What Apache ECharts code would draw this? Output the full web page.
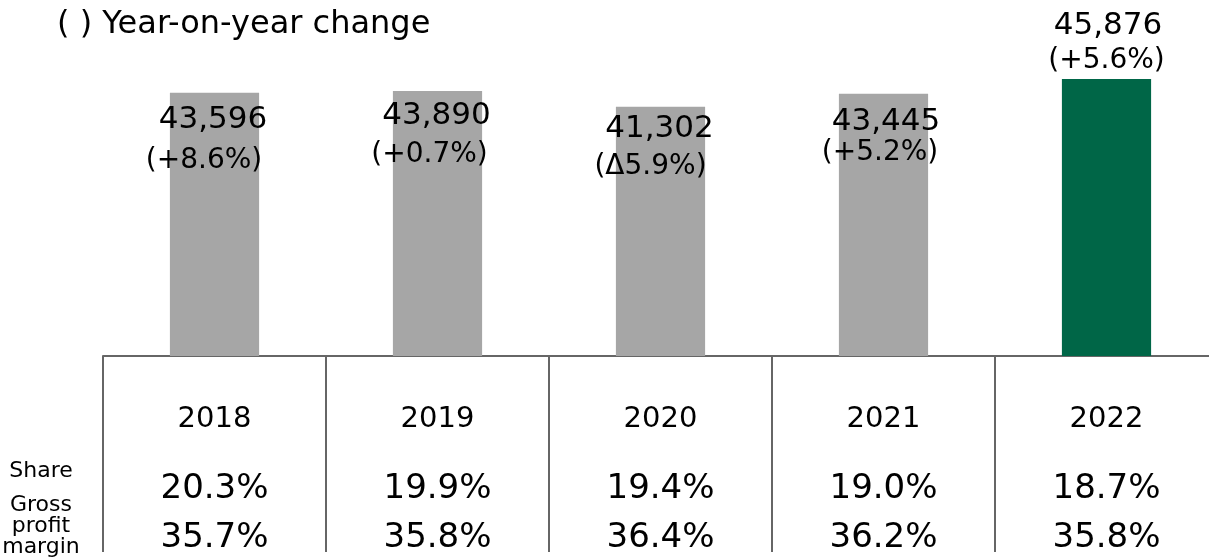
<!DOCTYPE html>
<html>
<head>
<meta charset="utf-8">
<script src="https://cdn.jsdelivr.net/npm/echarts@6/dist/echarts.min.js"></script>
<style>
  html, body { margin: 0; padding: 0; background: #fff; }
  #chart { width: 1209px; height: 558px; }
</style>
</head>
<body>
<div id="chart"></div>
<script>
// data
const years = ['2018', '2019', '2020', '2021', '2022'];
const sales = [43596, 43890, 41302, 43445, 45876];
const yoyChange = ['(+8.6%)', '(+0.7%)', '(Δ5.9%)', '(+5.2%)', '(+5.6%)'];
const share = ['20.3%', '19.9%', '19.4%', '19.0%', '18.7%'];
const grossMargin = ['35.7%', '35.8%', '36.4%', '36.2%', '35.8%'];

(function () {
    const FONT = '"DejaVu Sans", "Noto Sans CJK JP", sans-serif';
    const GRAY = '#a6a6a6';
    const GREEN = '#006647';
    const LINE = '#666666';

    // label anchors relative to the bar's top centre (the labels in the source are placed by hand)
    const valueOffsets = [[-1.5, 27], [-1, 25], [-1, 22], [2.5, 28], [1.5, -53]];
    const yoyOffsets = [[-10.5, 68], [-8, 64], [-10, 60], [-3.5, 59], [0, -18]];

    const barColor = i => (i === years.length - 1 ? GREEN : GRAY);

    const labelBase = {
        show: true,
        position: 'insideTop',
        distance: 0,
        align: 'center',
        verticalAlign: 'middle',
        color: '#000',
        fontFamily: FONT
    };

    const chart = echarts.init(document.getElementById('chart'));
    chart.setOption({
        animation: false,
        title: {
            text: '( ) Year-on-year change',
            left: 57,
            top: 9,
            padding: 0,
            textStyle: { fontFamily: FONT, fontSize: 32, fontWeight: 'normal', color: '#000' }
        },
        // the table runs past the right edge of the picture, so the grid is wider than the canvas
        grid: {
            left: 103, width: 1115, top: 24, bottom: 202,
            containLabel: false, outerBoundsMode: 'none'
        },
        xAxis: {
            type: 'category',
            data: years,
            axisLine: { lineStyle: { color: LINE, width: 2 } },
            axisTick: { show: true, interval: 0, length: 196, lineStyle: { color: LINE, width: 2 } },
            axisLabel: {
                interval: 0,
                margin: 30,
                verticalAlign: 'top',
                formatter: (val, idx) => `{y|${val}}\n{s|${share[idx]}}\n{g|${grossMargin[idx]}}`,
                rich: {
                    y: { fontFamily: FONT, fontSize: 29, lineHeight: 66, color: '#000' },
                    s: { fontFamily: FONT, fontSize: 34, lineHeight: 74, color: '#000' },
                    g: { fontFamily: FONT, fontSize: 34, lineHeight: 24, color: '#000' }
                }
            }
        },
        yAxis: { type: 'value', min: 0, max: 55000, show: false, splitLine: { show: false } },
        series: [
            {
                name: 'Sales',
                type: 'bar',
                barWidth: '40%',
                barGap: '-100%',
                data: sales.map((v, i) => ({
                    value: v,
                    itemStyle: { color: barColor(i) },
                    label: { offset: valueOffsets[i] }
                })),
                label: Object.assign({}, labelBase, {
                    fontSize: 31,
                    formatter: p => p.value.toLocaleString('en-US')
                })
            },
            {
                name: 'YoY',
                type: 'bar',
                barWidth: '40%',
                barGap: '-100%',
                silent: true,
                itemStyle: { color: 'rgba(0,0,0,0)' },
                data: sales.map((v, i) => ({
                    value: v,
                    label: { offset: yoyOffsets[i] }
                })),
                label: Object.assign({}, labelBase, {
                    fontSize: 28,
                    formatter: p => yoyChange[p.dataIndex]
                })
            }
        ],
        graphic: [
            {
                type: 'text',
                style: {
                    x: 41, y: 471, text: 'Share',
                    font: '22px ' + FONT, fill: '#000',
                    align: 'center', verticalAlign: 'middle'
                }
            },
            {
                type: 'text',
                style: {
                    x: 41, y: 495, text: 'Gross\nprofit\nmargin',
                    font: '22px ' + FONT, fill: '#000', lineHeight: 21,
                    align: 'center', verticalAlign: 'top'
                }
            }
        ]
    });

    window.addEventListener('resize', () => chart.resize());
})();
</script>
</body>
</html>
